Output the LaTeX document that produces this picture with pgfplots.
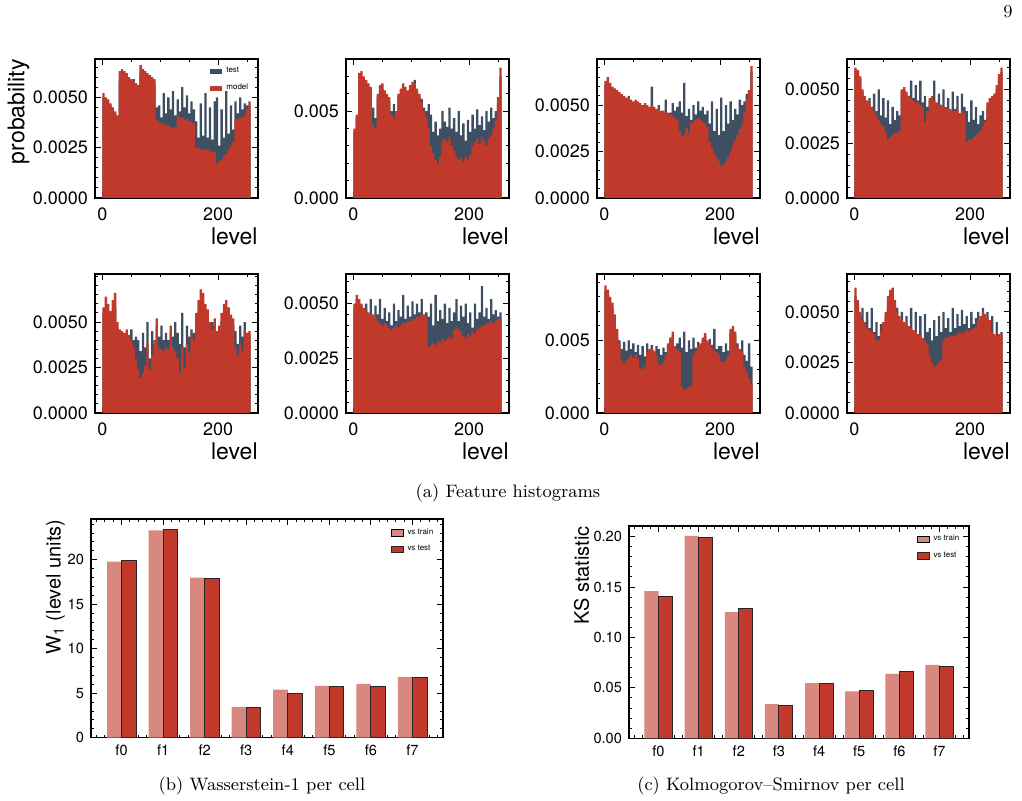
\documentclass[border=0pt]{standalone}
\usepackage{fontspec}
\usepackage{pgfplots}
\usepackage{pgfplotstable}
\pgfplotsset{compat=1.18}
\newfontfamily\hv{TeX Gyre Heros}
\definecolor{testc}{HTML}{3E4F63}
\definecolor{modc}{HTML}{C0392B}
\definecolor{trainc}{HTML}{D98880}

\pgfplotstableread{
t m
0.0050 0.0052
0.0048 0.0050
0.0047 0.0049
0.0046 0.0047
0.0044 0.0045
0.0042 0.0043
0.0040 0.0041
0.0058 0.0063
0.0060 0.0064
0.0061 0.0063
0.0058 0.0062
0.0059 0.0060
0.0057 0.0059
0.0059 0.0058
0.0055 0.0057
0.0054 0.0056
0.0062 0.0066
0.0060 0.0064
0.0061 0.0063
0.0058 0.0062
0.0059 0.0061
0.0057 0.0060
0.0056 0.0059
0.0045 0.0039
0.0046 0.0038
0.0040 0.0037
0.0052 0.0037
0.0042 0.0036
0.0050 0.0036
0.0044 0.0035
0.0053 0.0035
0.0041 0.0035
0.0049 0.0041
0.0043 0.0040
0.0055 0.0040
0.0045 0.0039
0.0051 0.0039
0.0042 0.0038
0.0048 0.0038
0.0044 0.0037
0.0038 0.0025
0.0030 0.0025
0.0047 0.0024
0.0031 0.0024
0.0052 0.0024
0.0030 0.0024
0.0045 0.0023
0.0029 0.0023
0.0048 0.0023
0.0050 0.0017
0.0026 0.0018
0.0044 0.0019
0.0030 0.0021
0.0053 0.0022
0.0032 0.0024
0.0046 0.0026
0.0034 0.0028
0.0048 0.0039
0.0042 0.0039
0.0050 0.0040
0.0044 0.0040
0.0047 0.0041
0.0046 0.0044
0.0046 0.0048
0.0046 0.0048
}\pA

\pgfplotstableread{
t m
0.0038 0.0040
0.0046 0.0048
0.0068 0.0072
0.0070 0.0073
0.0066 0.0070
0.0064 0.0068
0.0062 0.0066
0.0060 0.0064
0.0052 0.0042
0.0046 0.0040
0.0058 0.0060
0.0062 0.0065
0.0063 0.0066
0.0059 0.0062
0.0057 0.0060
0.0055 0.0058
0.0050 0.0048
0.0054 0.0046
0.0048 0.0050
0.0058 0.0060
0.0060 0.0063
0.0062 0.0066
0.0061 0.0064
0.0060 0.0062
0.0062 0.0065
0.0064 0.0067
0.0068 0.0066
0.0061 0.0063
0.0058 0.0060
0.0057 0.0055
0.0052 0.0050
0.0050 0.0047
0.0054 0.0040
0.0048 0.0030
0.0038 0.0026
0.0044 0.0022
0.0036 0.0020
0.0040 0.0024
0.0050 0.0033
0.0044 0.0034
0.0041 0.0032
0.0052 0.0035
0.0040 0.0030
0.0046 0.0027
0.0038 0.0024
0.0050 0.0022
0.0036 0.0023
0.0043 0.0021
0.0033 0.0024
0.0045 0.0022
0.0038 0.0025
0.0048 0.0030
0.0040 0.0032
0.0051 0.0034
0.0042 0.0031
0.0047 0.0035
0.0039 0.0033
0.0050 0.0030
0.0044 0.0034
0.0052 0.0036
0.0046 0.0040
0.0050 0.0045
0.0055 0.0058
0.0070 0.0075
0.0070 0.0075
}\pB

\pgfplotstableread{
t m
0.0061 0.0063
0.0062 0.0065
0.0060 0.0062
0.0058 0.0060
0.0057 0.0059
0.0056 0.0058
0.0055 0.0057
0.0054 0.0056
0.0053 0.0055
0.0052 0.0054
0.0055 0.0054
0.0051 0.0053
0.0050 0.0052
0.0051 0.0053
0.0050 0.0052
0.0049 0.0051
0.0048 0.0050
0.0049 0.0051
0.0048 0.0050
0.0047 0.0049
0.0060 0.0050
0.0047 0.0049
0.0046 0.0048
0.0050 0.0048
0.0045 0.0047
0.0045 0.0047
0.0053 0.0046
0.0044 0.0046
0.0046 0.0045
0.0051 0.0044
0.0047 0.0043
0.0049 0.0042
0.0052 0.0036
0.0046 0.0033
0.0062 0.0034
0.0044 0.0038
0.0048 0.0035
0.0042 0.0040
0.0050 0.0041
0.0045 0.0042
0.0052 0.0043
0.0047 0.0042
0.0049 0.0041
0.0045 0.0040
0.0047 0.0038
0.0040 0.0030
0.0052 0.0027
0.0036 0.0024
0.0048 0.0022
0.0034 0.0020
0.0054 0.0017
0.0036 0.0018
0.0050 0.0020
0.0040 0.0022
0.0052 0.0025
0.0042 0.0028
0.0048 0.0031
0.0045 0.0034
0.0053 0.0037
0.0050 0.0040
0.0052 0.0046
0.0056 0.0053
0.0058 0.0058
0.0068 0.0071
0.0068 0.0071
}\pC

\pgfplotstableread{
t m
0.0059 0.0060
0.0058 0.0059
0.0055 0.0056
0.0049 0.0050
0.0046 0.0047
0.0044 0.0045
0.0046 0.0044
0.0042 0.0042
0.0048 0.0040
0.0040 0.0038
0.0050 0.0036
0.0038 0.0034
0.0046 0.0033
0.0037 0.0030
0.0045 0.0027
0.0034 0.0028
0.0042 0.0029
0.0036 0.0030
0.0040 0.0030
0.0038 0.0031
0.0049 0.0050
0.0050 0.0051
0.0048 0.0049
0.0046 0.0047
0.0054 0.0046
0.0046 0.0045
0.0052 0.0044
0.0045 0.0044
0.0054 0.0043
0.0044 0.0042
0.0047 0.0035
0.0042 0.0040
0.0045 0.0046
0.0046 0.0047
0.0054 0.0045
0.0043 0.0044
0.0048 0.0043
0.0042 0.0043
0.0050 0.0042
0.0041 0.0042
0.0046 0.0041
0.0040 0.0041
0.0049 0.0040
0.0041 0.0040
0.0047 0.0041
0.0039 0.0039
0.0048 0.0040
0.0042 0.0039
0.0040 0.0026
0.0035 0.0027
0.0045 0.0027
0.0036 0.0028
0.0042 0.0029
0.0034 0.0030
0.0038 0.0031
0.0040 0.0033
0.0036 0.0035
0.0042 0.0044
0.0044 0.0046
0.0046 0.0047
0.0047 0.0048
0.0050 0.0052
0.0055 0.0057
0.0058 0.0060
0.0058 0.0060
}\pD

\pgfplotstableread{
t m
0.0055 0.0058
0.0057 0.0064
0.0055 0.0060
0.0054 0.0056
0.0056 0.0062
0.0058 0.0066
0.0047 0.0050
0.0045 0.0046
0.0043 0.0045
0.0042 0.0044
0.0044 0.0046
0.0041 0.0043
0.0046 0.0040
0.0040 0.0036
0.0042 0.0030
0.0040 0.0024
0.0034 0.0019
0.0044 0.0022
0.0036 0.0026
0.0050 0.0038
0.0030 0.0024
0.0045 0.0032
0.0038 0.0040
0.0048 0.0052
0.0042 0.0036
0.0048 0.0035
0.0040 0.0034
0.0044 0.0036
0.0040 0.0035
0.0045 0.0048
0.0042 0.0036
0.0050 0.0034
0.0044 0.0030
0.0038 0.0022
0.0055 0.0036
0.0036 0.0025
0.0048 0.0038
0.0042 0.0033
0.0046 0.0044
0.0044 0.0040
0.0050 0.0055
0.0055 0.0062
0.0058 0.0068
0.0056 0.0066
0.0052 0.0060
0.0050 0.0057
0.0046 0.0050
0.0050 0.0046
0.0048 0.0052
0.0044 0.0045
0.0046 0.0048
0.0050 0.0055
0.0053 0.0060
0.0055 0.0062
0.0052 0.0058
0.0050 0.0054
0.0048 0.0052
0.0045 0.0036
0.0038 0.0032
0.0048 0.0038
0.0042 0.0034
0.0050 0.0046
0.0044 0.0044
0.0043 0.0045
0.0043 0.0045
}\pE

\pgfplotstableread{
t m
0.0048 0.0050
0.0052 0.0054
0.0050 0.0052
0.0049 0.0050
0.0047 0.0048
0.0050 0.0047
0.0044 0.0046
0.0052 0.0045
0.0043 0.0045
0.0049 0.0044
0.0045 0.0042
0.0052 0.0041
0.0043 0.0040
0.0048 0.0041
0.0042 0.0040
0.0046 0.0039
0.0040 0.0038
0.0050 0.0039
0.0042 0.0040
0.0047 0.0039
0.0044 0.0040
0.0054 0.0041
0.0043 0.0041
0.0049 0.0042
0.0044 0.0042
0.0051 0.0043
0.0045 0.0043
0.0050 0.0044
0.0046 0.0044
0.0052 0.0045
0.0044 0.0045
0.0046 0.0044
0.0044 0.0030
0.0050 0.0031
0.0040 0.0032
0.0054 0.0031
0.0042 0.0033
0.0047 0.0032
0.0043 0.0034
0.0050 0.0033
0.0041 0.0034
0.0048 0.0035
0.0042 0.0034
0.0046 0.0038
0.0052 0.0039
0.0042 0.0038
0.0049 0.0037
0.0044 0.0035
0.0050 0.0034
0.0041 0.0036
0.0046 0.0035
0.0039 0.0037
0.0050 0.0036
0.0043 0.0038
0.0046 0.0039
0.0058 0.0040
0.0044 0.0040
0.0048 0.0041
0.0043 0.0041
0.0052 0.0042
0.0045 0.0041
0.0047 0.0042
0.0044 0.0043
0.0046 0.0043
0.0046 0.0043
}\pF

\pgfplotstableread{
t m
0.0084 0.0088
0.0082 0.0085
0.0076 0.0080
0.0072 0.0076
0.0062 0.0068
0.0052 0.0058
0.0050 0.0048
0.0044 0.0036
0.0049 0.0034
0.0043 0.0036
0.0050 0.0038
0.0044 0.0040
0.0048 0.0038
0.0042 0.0040
0.0047 0.0037
0.0040 0.0031
0.0046 0.0030
0.0039 0.0032
0.0048 0.0042
0.0043 0.0044
0.0047 0.0045
0.0042 0.0043
0.0046 0.0040
0.0044 0.0034
0.0040 0.0033
0.0045 0.0035
0.0042 0.0040
0.0046 0.0048
0.0050 0.0052
0.0053 0.0056
0.0044 0.0046
0.0048 0.0044
0.0052 0.0042
0.0045 0.0018
0.0056 0.0016
0.0042 0.0017
0.0050 0.0018
0.0044 0.0019
0.0052 0.0040
0.0045 0.0043
0.0049 0.0046
0.0046 0.0048
0.0050 0.0052
0.0053 0.0055
0.0048 0.0050
0.0051 0.0048
0.0047 0.0045
0.0058 0.0043
0.0044 0.0042
0.0046 0.0040
0.0046 0.0036
0.0042 0.0035
0.0048 0.0037
0.0043 0.0040
0.0055 0.0058
0.0057 0.0060
0.0054 0.0056
0.0048 0.0046
0.0044 0.0044
0.0050 0.0042
0.0040 0.0032
0.0036 0.0028
0.0048 0.0024
0.0032 0.0020
0.0032 0.0020
}\pG

\pgfplotstableread{
t m
0.0058 0.0062
0.0053 0.0056
0.0048 0.0050
0.0052 0.0046
0.0044 0.0045
0.0050 0.0042
0.0042 0.0041
0.0052 0.0040
0.0040 0.0039
0.0045 0.0036
0.0038 0.0036
0.0044 0.0040
0.0043 0.0045
0.0048 0.0050
0.0055 0.0058
0.0058 0.0061
0.0059 0.0062
0.0053 0.0056
0.0052 0.0050
0.0046 0.0048
0.0050 0.0046
0.0044 0.0045
0.0048 0.0044
0.0042 0.0043
0.0052 0.0042
0.0040 0.0041
0.0050 0.0040
0.0038 0.0039
0.0048 0.0038
0.0036 0.0037
0.0049 0.0036
0.0040 0.0034
0.0042 0.0028
0.0036 0.0025
0.0046 0.0023
0.0038 0.0024
0.0048 0.0025
0.0040 0.0026
0.0050 0.0036
0.0042 0.0037
0.0047 0.0037
0.0040 0.0038
0.0052 0.0038
0.0042 0.0038
0.0049 0.0039
0.0043 0.0040
0.0051 0.0039
0.0044 0.0040
0.0048 0.0041
0.0042 0.0040
0.0050 0.0041
0.0044 0.0042
0.0047 0.0043
0.0050 0.0046
0.0046 0.0048
0.0052 0.0050
0.0047 0.0049
0.0050 0.0047
0.0045 0.0046
0.0048 0.0040
0.0037 0.0039
0.0045 0.0038
0.0036 0.0039
0.0040 0.0039
0.0040 0.0039
}\pH

\pgfplotstableread{
f tr te
0 19.8 19.9
1 23.3 23.4
2 18.0 17.9
3 3.46 3.37
4 5.40 4.95
5 5.83 5.72
6 6.05 5.78
7 6.85 6.78
}\wone

\pgfplotstableread{
f tr te
0 0.146 0.141
1 0.2006 0.1990
2 0.125 0.129
3 0.034 0.0325
4 0.0548 0.0545
5 0.0466 0.0476
6 0.0638 0.0660
7 0.0727 0.0714
}\kstab

\pgfplotsset{
  common/.style={scale only axis, axis line style={line width=0.9pt},
    tick align=inside, major tick length=3pt, minor tick length=1.5pt,
    every tick/.style={black,line width=0.5pt}, scaled ticks=false,
    /pgf/number format/assume math mode=true,
    ylabel style={inner sep=0pt, anchor=east}},
  hist/.style={common, width=81.5pt, height=69.5pt,
    xmin=-12.8, xmax=268.8, ymin=0,
    xtick={0,200}, xticklabels={0,200}, minor xtick={50,100,150,250},
    ticklabel style={font=\hv\fontsize{9}{9}\selectfont},
    xticklabel style={yshift=-1.5pt},
    xlabel={level},
    xlabel style={font=\hv\fontsize{11.5}{11.5}\selectfont, at={(axis description cs:1,0)}, anchor=north east, inner sep=0pt, yshift=-14.5pt},
    ylabel style={font=\hv\fontsize{11.5}{11.5}\selectfont, at={(axis description cs:-0.469,1)}}},
  hA/.style={ytick={0,0.0025,0.005}, yticklabels={0.0000,0.0025,0.0050}, minor ytick={0.0005,0.001,...,0.0095}},
  hB/.style={ytick={0,0.005}, yticklabels={0.000,0.005}, minor ytick={0.001,0.002,...,0.009}},
  bars/.style={common, axis line style={line width=0.75pt}, xmin=-0.735, xmax=7.735, ymin=0,
    xtick={0,...,7}, xticklabels={f0,f1,f2,f3,f4,f5,f6,f7}, minor xtick={-0.6,-0.4,...,7.6},
    ticklabel style={font=\hv\fontsize{7.3}{7.3}\selectfont},
    ylabel style={font=\hv\fontsize{10}{10}\selectfont},
    legend style={at={(axis description cs:1,1)}, anchor=north east, xshift=-2.7pt, yshift=-2.5pt, draw=none, fill=none, inner sep=0pt, font=\hv\fontsize{4}{4}\selectfont, cells={anchor=west}}},
}

\newcommand{\histplots}[1]{%
  \addplot[const plot mark left, fill=testc, draw=none] table[x expr=\coordindex*4, y=t] {#1} \closedcycle;
  \addplot[const plot mark left, fill=modc, draw=none] table[x expr=\coordindex*4, y=m] {#1} \closedcycle;
}

\begin{document}
\begin{tikzpicture}
\path[use as bounding box] (0pt,0pt) rectangle (511pt,-400.5pt);

\begin{axis}[hist, hA, at={(47.5pt,-99pt)}, anchor=south west, ymax=0.0069, ylabel={probability},
  legend style={at={(axis description cs:1,1)}, anchor=north east, xshift=-2.7pt, yshift=-2.1pt, draw=none, fill=none, inner sep=0pt, font=\hv\fontsize{4}{4}\selectfont, cells={anchor=west}},
  legend image code/.code={\fill[#1] (0pt,-1.2pt) rectangle (6pt,1.2pt);}]
\histplots{\pA}
\legend{test,model}
\end{axis}

\begin{axis}[hist, hB, at={(173pt,-99pt)}, anchor=south west, ymax=0.0080]
\histplots{\pB}
\end{axis}

\begin{axis}[hist, hA, at={(298.5pt,-99pt)}, anchor=south west, ymax=0.00748]
\histplots{\pC}
\end{axis}

\begin{axis}[hist, hA, at={(423.5pt,-99pt)}, anchor=south west, ymax=0.0064]
\histplots{\pD}
\end{axis}

\begin{axis}[hist, hA, at={(47.5pt,-206.5pt)}, anchor=south west, ymax=0.00764]
\histplots{\pE}
\end{axis}

\begin{axis}[hist, hA, at={(173pt,-206.5pt)}, anchor=south west, ymax=0.00635]
\histplots{\pF}
\end{axis}

\begin{axis}[hist, hB, at={(298.5pt,-206.5pt)}, anchor=south west, ymax=0.00958]
\histplots{\pG}
\end{axis}

\begin{axis}[hist, hA, at={(423.5pt,-206.5pt)}, anchor=south west, ymax=0.00688]
\histplots{\pH}
\end{axis}

\begin{axis}[bars, at={(45.5pt,-368.85pt)}, anchor=south west, width=176pt, height=109.3pt,
  ymax=24.57, ytick={0,5,10,15,20}, yticklabels={0,5,10,15,20}, minor ytick={1,2,...,24},
  ylabel={W\textsubscript{1} (level units)}, ylabel style={at={(axis description cs:-0.1009,1)}},
  legend image code/.code={\draw[#1] (0pt,-1.6pt) rectangle (6pt,1.6pt);}]
\addplot[ybar, bar width=0.35, bar shift=-0.175, fill=trainc, draw=none] table[x=f, y=tr] {\wone};
\addplot[ybar, bar width=0.35, bar shift=0.175, fill=modc, draw=black!85, line width=0.5pt] table[x=f, y=te] {\wone};
\legend{vs train,vs test}
\end{axis}

\begin{axis}[bars, at={(314.5pt,-369.15pt)}, anchor=south west, width=170pt, height=106.2pt,
  ymax=0.2106, ytick={0,0.05,0.1,0.15,0.2}, yticklabels={0.00,0.05,0.10,0.15,0.20}, minor ytick={0.01,0.02,...,0.21},
  ylabel={KS statistic}, ylabel style={at={(axis description cs:-0.1397,1)}},
  legend image code/.code={\draw[#1] (0pt,-1.6pt) rectangle (6pt,1.6pt);}]
\addplot[ybar, bar width=0.35, bar shift=-0.175, fill=trainc, draw=none] table[x=f, y=tr] {\kstab};
\addplot[ybar, bar width=0.35, bar shift=0.175, fill=modc, draw=black!85, line width=0.5pt] table[x=f, y=te] {\kstab};
\legend{vs train,vs test}
\end{axis}

\node[anchor=base, inner sep=0pt] at (254pt,-249pt) {\fontsize{9}{11}\selectfont (a) Feature histograms};
\node[anchor=base, inner sep=0pt] at (131pt,-395pt) {\fontsize{9}{11}\selectfont (b) Wasserstein-1 per cell};
\node[anchor=base, inner sep=0pt] at (385.5pt,-395pt) {\fontsize{9}{11}\selectfont (c) Kolmogorov--Smirnov per cell};
\node[anchor=base, inner sep=0pt] at (504pt,-9pt) {\fontsize{9}{11}\selectfont 9};
\end{tikzpicture}
\end{document}
